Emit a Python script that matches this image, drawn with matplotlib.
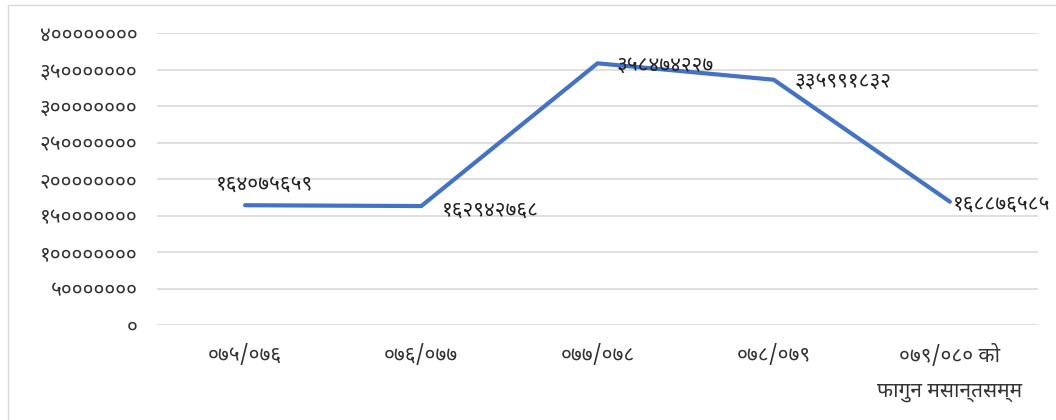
import matplotlib
matplotlib.use("Agg")
import matplotlib.pyplot as plt
from matplotlib.patches import Rectangle

plt.rcParams['font.family'] = ['Noto Sans Devanagari', 'DejaVu Sans']

# data
years = ["०७५/०७६", "०७६/०७७", "०७७/०७८", "०७८/०७९", "०७९/०८० को\nफागुन मसान्तसम्म"]
values = [164075659, 162942768, 358474227, 335991832, 168876585]
value_labels = ["१६४०७५६५९", "१६२९४२७६८", "३५८४७४२२७", "३३५९९१८३२", "१६८८७६५८५"]
yticks = [0, 50000000, 100000000, 150000000, 200000000, 250000000,
          300000000, 350000000, 400000000]
ytick_labels = ["०", "५०००००००", "१००००००००", "१५०००००००", "२००००००००",
                "२५०००००००", "३००००००००", "३५०००००००", "४००००००००"]

fig = plt.figure(figsize=(10.56, 4.2), dpi=100)
ax = fig.add_axes([157/1056, 1-325/420, (1038-157)/1056, (325-33)/420])

x = list(range(len(years)))
ax.plot(x, values, color="#4472C4", linewidth=3.0, solid_capstyle="round")

# label placement (offsets in points)
offsets = [(14, 15, 'center'), (15, -3, 'left'), (14, -1, 'left'), (15, -1, 'left'), (2, -2, 'left')]
for xi, v, lab, (dx, dy, ha) in zip(x, values, value_labels, offsets):
    ax.annotate(lab, (xi, v), xytext=(dx, dy), textcoords="offset points",
                ha=ha, va="center", fontsize=15, color="#222222")

ax.set_xlim(-0.5, len(years) - 0.5)
ax.set_ylim(0, 400000000)
ax.set_yticks(yticks)
ax.set_yticklabels(ytick_labels, fontsize=15, color="#333333")
ax.set_xticks(x)
ax.set_xticklabels(years, fontsize=15, color="#333333", linespacing=1.85, va="top")
ax.tick_params(axis="both", length=0)
ax.tick_params(axis="y", pad=14)
ax.tick_params(axis="x", pad=14)
ax.grid(axis="y", color="#d9d9d9", linewidth=1.2)
ax.set_axisbelow(True)
for s in ax.spines.values():
    s.set_visible(False)

# outer chart border
fig.patches.append(Rectangle((8/1056, -0.01), 1.02, 1 - 5/420 + 0.01, transform=fig.transFigure,
                             fill=False, edgecolor="#d9d9d9", linewidth=1))

fig.savefig("out.png", dpi=100)
